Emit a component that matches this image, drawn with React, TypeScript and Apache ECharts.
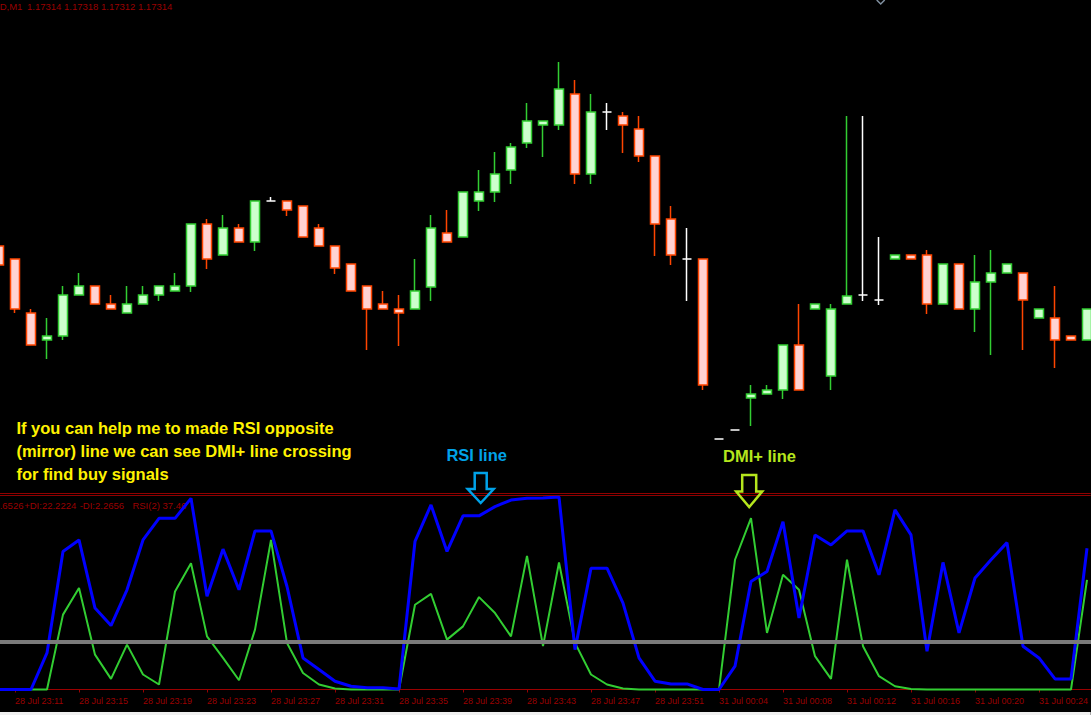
import React, { useEffect, useRef } from "react";
import * as echarts from "echarts";

// ---- time axis (one bar per minute, gap between sessions) ----
const categories: string[] = [
  "28 Jul 23:10", "28 Jul 23:11", "28 Jul 23:12", "28 Jul 23:13", "28 Jul 23:14",
  "28 Jul 23:15", "28 Jul 23:16", "28 Jul 23:17", "28 Jul 23:18", "28 Jul 23:19",
  "28 Jul 23:20", "28 Jul 23:21", "28 Jul 23:22", "28 Jul 23:23", "28 Jul 23:24",
  "28 Jul 23:25", "28 Jul 23:26", "28 Jul 23:27", "28 Jul 23:28", "28 Jul 23:29",
  "28 Jul 23:30", "28 Jul 23:31", "28 Jul 23:32", "28 Jul 23:33", "28 Jul 23:34",
  "28 Jul 23:35", "28 Jul 23:36", "28 Jul 23:37", "28 Jul 23:38", "28 Jul 23:39",
  "28 Jul 23:40", "28 Jul 23:41", "28 Jul 23:42", "28 Jul 23:43", "28 Jul 23:44",
  "28 Jul 23:45", "28 Jul 23:46", "28 Jul 23:47", "28 Jul 23:48", "28 Jul 23:49",
  "28 Jul 23:50", "28 Jul 23:51", "28 Jul 23:52", "28 Jul 23:53", "28 Jul 23:54",
  "31 Jul 00:04", "31 Jul 00:05", "31 Jul 00:06", "31 Jul 00:07", "31 Jul 00:08",
  "31 Jul 00:09", "31 Jul 00:10", "31 Jul 00:11", "31 Jul 00:12", "31 Jul 00:13",
  "31 Jul 00:14", "31 Jul 00:15", "31 Jul 00:16", "31 Jul 00:17", "31 Jul 00:18",
  "31 Jul 00:19", "31 Jul 00:20", "31 Jul 00:21", "31 Jul 00:22", "31 Jul 00:23",
  "31 Jul 00:24", "31 Jul 00:25", "31 Jul 00:26", "31 Jul 00:27",
];

// ---- OHLC prices ----
const openP: number[] = [
  1.17394, 1.17381, 1.17327, 1.173, 1.17304, 1.17345, 1.17354, 1.17336, 1.17327, 1.17336,
  1.17345, 1.17349, 1.17354, 1.17416, 1.17385, 1.17412, 1.17398, 1.17439, 1.17439, 1.17434,
  1.17412, 1.17394, 1.17376, 1.17354, 1.17336, 1.17331, 1.17331, 1.17353, 1.17407, 1.17403,
  1.17439, 1.17448, 1.1747, 1.17497, 1.17515, 1.17515, 1.17546, 1.17466, 1.17528, 1.17524,
  1.17511, 1.17484, 1.17421, 1.17381, 1.17381, 1.17201, 1.1721, 1.17242, 1.17246, 1.1725,
  1.17295, 1.17331, 1.17264, 1.17336, 1.17345, 1.1734, 1.17381, 1.17385, 1.17385, 1.17336,
  1.17376, 1.17331, 1.17358, 1.17367, 1.17367, 1.17322, 1.17322, 1.17304, 1.173,
];
const closeP: number[] = [
  1.17375, 1.17331, 1.17295, 1.17304, 1.17345, 1.17354, 1.17336, 1.17331, 1.17336, 1.17345,
  1.17354, 1.17354, 1.17416, 1.17381, 1.17412, 1.17398, 1.17439, 1.17439, 1.1743, 1.17403,
  1.17394, 1.17372, 1.17349, 1.17331, 1.17331, 1.17327, 1.17349, 1.17412, 1.17398, 1.17448,
  1.17448, 1.17466, 1.17493, 1.17519, 1.17519, 1.17551, 1.17466, 1.17528, 1.17528, 1.17515,
  1.17484, 1.17416, 1.17385, 1.17381, 1.17255, 1.17201, 1.1721, 1.17246, 1.1725, 1.17295,
  1.1725, 1.17336, 1.17331, 1.17344, 1.17345, 1.1734, 1.17385, 1.17381, 1.17336, 1.17376,
  1.17331, 1.17358, 1.17367, 1.17376, 1.1734, 1.17331, 1.173, 1.173, 1.17331,
];
const lowP: number[] = [
  1.17375, 1.17327, 1.17295, 1.17281, 1.173, 1.17345, 1.17336, 1.17331, 1.17327, 1.17336,
  1.17339, 1.17349, 1.17348, 1.17371, 1.17385, 1.17398, 1.17389, 1.17439, 1.17424, 1.17403,
  1.17394, 1.17366, 1.17349, 1.1729, 1.17331, 1.17294, 1.17331, 1.17339, 1.17398, 1.17403,
  1.17429, 1.17438, 1.17456, 1.17492, 1.17483, 1.1751, 1.17456, 1.17456, 1.1751, 1.17487,
  1.17478, 1.17384, 1.17375, 1.17339, 1.1725, 1.17201, 1.1721, 1.17214, 1.17246, 1.17241,
  1.1725, 1.17331, 1.1725, 1.17336, 1.17339, 1.17335, 1.17381, 1.17381, 1.17326, 1.17336,
  1.17331, 1.17308, 1.17285, 1.17367, 1.1729, 1.17322, 1.17272, 1.173, 1.173,
];
const highP: number[] = [
  1.17394, 1.17381, 1.17331, 1.17322, 1.17354, 1.17367, 1.17354, 1.17345, 1.17354, 1.17354,
  1.17354, 1.17367, 1.17416, 1.17421, 1.17425, 1.17416, 1.17439, 1.17443, 1.17439, 1.17434,
  1.17416, 1.17394, 1.17376, 1.17354, 1.17349, 1.17345, 1.17381, 1.17425, 1.1743, 1.17448,
  1.1747, 1.17488, 1.17497, 1.17537, 1.17519, 1.17578, 1.1756, 1.17546, 1.17537, 1.17528,
  1.17524, 1.17484, 1.17434, 1.17412, 1.17381, 1.17201, 1.1721, 1.17255, 1.17255, 1.17295,
  1.17336, 1.17336, 1.17336, 1.17524, 1.17524, 1.17403, 1.17385, 1.17385, 1.1739, 1.17376,
  1.17376, 1.17385, 1.1739, 1.17376, 1.17367, 1.17331, 1.17354, 1.17304, 1.17331,
];

// ---- indicator window ----
const rsiValues: number[] = [
  0, 0, 0, 19, 71.7, 77.7, 42.3, 33.2, 51.8, 77.7,
  88.9, 88.9, 99.3, 48.4, 72.9, 51.8, 82.4, 82.4, 53.5, 16.4,
  10.4, 4.3, 1.7, 0.9, 0.9, 0.3, 76.9, 95.9, 71.7, 90.2,
  90.2, 95, 98.4, 99.3, 99.5, 100, 20.7, 63, 63, 44.9,
  16.4, 4.3, 2.9, 2.9, 0, 0, 12.1, 56.1, 61.3, 87.2,
  37.1, 80.3, 75.1, 82.4, 82.4, 59.6, 93.3, 80.3, 19.9, 66,
  29.4, 57.9, 67.4, 76.3, 22.5, 16.4, 5.5, 5.5, 73.4,
];
const dmiPlusValues: number[] = [
  0, 0, 0, 0, 38.9, 52.7, 18.1, 5.5, 23.3, 7.8,
  2.6, 50.9, 65.6, 27.6, 16.4, 4.8, 31.1, 77.7, 24.2, 8.6,
  2.6, 0.5, 0, 0, 0, 0, 44, 49.7, 25.9, 32.8,
  48, 39.7, 27.6, 69.4, 22.5, 66, 24.2, 7.8, 2.6, 0.5,
  0, 0, 0, 0, 0, 0, 67.4, 89, 29.4, 59.6,
  51.8, 17.3, 5.5, 67.4, 22.5, 6.9, 1.7, 0.3, 0, 0,
  0, 0, 0, 0, 0, 0, 0, 0, 57,
];
const levelValue = 25;

const mainHeader = ["D,M1", "1.17314 1.17318 1.17312 1.17314"];
const indicatorHeader = [".6526", "+DI:22.2224", "-DI:2.2656", "RSI(2) 37.46"];
const noteLines = [
  "If you can help me to made RSI opposite",
  "(mirror) line we can see DMI+ line crossing",
  "for find buy signals",
];

const DARK_RED = "#9a0000";
const SMALL_FONT = "Liberation Sans";
// the chart canvas starts left of the page so that the first bar is cut at the edge
const OFF = 8.7;
const CANVAS_W = 1104;

function arrowPoints(cx: number, top: number, headY: number, tip: number, sh: number, hh: number) {
  return [
    [cx - sh, top], [cx + sh, top], [cx + sh, headY], [cx + hh, headY],
    [cx, tip], [cx - hh, headY], [cx - sh, headY],
  ].map(([x, y]) => [x + OFF, y]);
}

function smallText(x: number, y: number, text: string) {
  return {
    type: "text", z: 0, x: x + OFF, y,
    style: { text, fill: DARK_RED, fontSize: 9.5, fontFamily: SMALL_FONT, verticalAlign: "middle" },
  };
}

function noteText(x: number, y: number, text: string, fill: string) {
  return {
    type: "text", z: 10, x: x + OFF, y,
    style: { text, fill, fontSize: 16.5, fontWeight: "bold", fontFamily: "Liberation Sans", verticalAlign: "middle" },
  };
}

export default function App() {
  const ref = useRef<HTMLDivElement>(null);
  useEffect(() => {
    if (!ref.current) return;
    const chart = echarts.init(ref.current, null, { renderer: "svg" });
    const candleData = categories.map((_, i) => {
      const v = [openP[i], closeP[i], lowP[i], highP[i]];
      if (openP[i] === closeP[i]) {
        return {
          value: v,
          itemStyle: { color: "#ffffff", color0: "#ffffff", borderColor: "#ffffff", borderColor0: "#ffffff" },
        };
      }
      return v;
    });
    const every4 = (idx: number) => idx % 4 === 1;

    chart.setOption({
      animation: false,
      backgroundColor: "#000000",
      grid: [
        { left: 0, right: 0, top: 0, height: 492 },
        { left: 0, right: 0, top: 497, height: 194.5 },
      ],
      xAxis: [
        { type: "category", gridIndex: 0, data: categories, show: false },
        {
          type: "category",
          gridIndex: 1,
          data: categories,
          axisLine: { show: true, lineStyle: { color: DARK_RED, width: 1 } },
          axisTick: {
            show: true,
            interval: every4,
            alignWithLabel: true,
            length: 3,
            lineStyle: { color: DARK_RED, width: 1 },
          },
          axisLabel: {
            interval: every4,
            align: "left",
            margin: 5,
            color: DARK_RED,
            fontSize: 9,
            fontFamily: SMALL_FONT,
          },
          splitLine: { show: false },
        },
      ],
      yAxis: [
        { type: "value", gridIndex: 0, min: 1.17148, max: 1.1764, show: false },
        { type: "value", gridIndex: 1, min: -1.04, max: 100, show: false },
      ],
      series: [
        {
          type: "candlestick",
          xAxisIndex: 0,
          yAxisIndex: 0,
          barWidth: 9.5,
          data: candleData,
          itemStyle: {
            color: "#ccffcc",
            color0: "#ffd2d2",
            borderColor: "#32cd32",
            borderColor0: "#ff4500",
            borderWidth: 1.5,
          },
        },
        {
          name: "level",
          type: "line",
          xAxisIndex: 1,
          yAxisIndex: 1,
          data: [],
          z: 1,
          markLine: {
            silent: true,
            symbol: "none",
            label: { show: false },
            lineStyle: { color: "#7a7a7a", width: 4, type: "solid", opacity: 1 },
            emphasis: { disabled: true },
            data: [{ yAxis: levelValue }],
          },
        },
        {
          name: "DMI+",
          type: "line",
          xAxisIndex: 1,
          yAxisIndex: 1,
          data: dmiPlusValues,
          showSymbol: false,
          symbol: "none",
          z: 3,
          lineStyle: { color: "#32cd32", width: 2 },
        },
        {
          name: "RSI",
          type: "line",
          xAxisIndex: 1,
          yAxisIndex: 1,
          data: rsiValues,
          showSymbol: false,
          symbol: "none",
          z: 4,
          lineStyle: { color: "#0000ff", width: 3 },
        },
      ],
      graphic: [
        { type: "line", z: 0, shape: { x1: OFF, y1: 493.5, x2: OFF + 1091, y2: 493.5 }, style: { stroke: "#900000", lineWidth: 1 } },
        { type: "line", z: 0, shape: { x1: OFF, y1: 495.5, x2: OFF + 1091, y2: 495.5 }, style: { stroke: "#900000", lineWidth: 1 } },
        { type: "rect", z: 0, shape: { x: OFF, y: 712, width: 1091, height: 3 }, style: { fill: "#f0f0f0" } },
        { type: "polyline", z: 0, shape: { points: [[OFF + 877, 0], [OFF + 881, 4], [OFF + 885, 0]] }, style: { stroke: "#8090a0", lineWidth: 1.5, fill: "none" } },
        smallText(0, 6, mainHeader[0]),
        smallText(27.3, 6, mainHeader[1]),
        smallText(0, 505.5, indicatorHeader[0]),
        smallText(24.5, 505.5, indicatorHeader[1]),
        smallText(80, 505.5, indicatorHeader[2]),
        smallText(132.7, 505.5, indicatorHeader[3]),
        ...noteLines.map((t, k) => noteText(16.7, 428.3 + k * 22.6, t, "#fff200")),
        noteText(446.7, 455, "RSI line", "#00a2e8"),
        noteText(723.3, 456, "DMI+ line", "#b5e61d"),
        { type: "polygon", z: 10, shape: { points: arrowPoints(481, 473, 489, 503, 6, 13) }, style: { fill: "none", stroke: "#00a2e8", lineWidth: 2.5 } },
        { type: "polygon", z: 10, shape: { points: arrowPoints(749.5, 475, 491.5, 507, 7, 13) }, style: { fill: "none", stroke: "#b5e61d", lineWidth: 2.5 } },
      ],
    });
    return () => chart.dispose();
  }, []);
  return (
    <div
      ref={ref}
      style={{ position: "fixed", left: -OFF, top: 0, width: CANVAS_W, height: 715, background: "#000" }}
    />
  );
}
